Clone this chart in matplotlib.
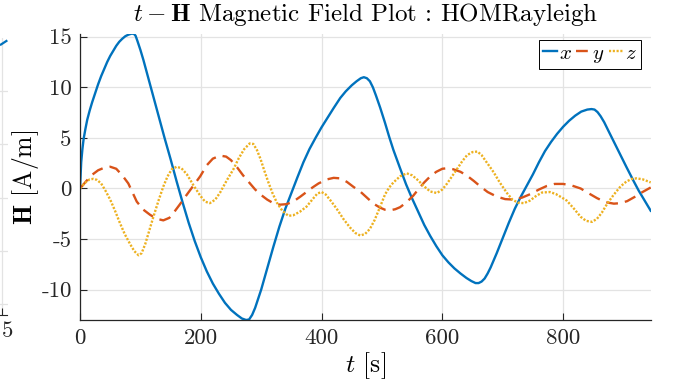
import matplotlib
matplotlib.use("Agg")
import matplotlib.pyplot as plt

plt.rcParams['font.family'] = ['cmr10', 'DejaVu Serif']
plt.rcParams['mathtext.fontset'] = 'cm'
plt.rcParams['axes.unicode_minus'] = False
plt.rcParams['axes.formatter.use_mathtext'] = True

# ---- data ----
t_x = [0, 2, 4, 6, 9, 12, 16, 20, 25, 30, 35, 40, 45, 50, 55, 60, 65, 70, 75, 80, 85, 89,
       92, 95, 100, 105, 110, 120, 130, 140, 150, 160, 170, 180, 190, 200, 210, 220, 230,
       240, 250, 260, 268, 275, 280, 285, 290, 295, 300, 310, 320, 330, 340, 350, 360,
       370, 380, 390, 400, 410, 420, 431, 440, 450, 458, 465, 470, 475, 480, 485, 490,
       497, 505, 512, 519, 530, 540, 550, 560, 570, 580, 590, 600, 610, 620, 630, 640,
       648, 655, 660, 665, 670, 675, 680, 690, 700, 710, 720, 730, 740, 750, 760, 770,
       780, 790, 800, 810, 820, 830, 840, 847, 852, 857, 862, 868, 875, 885, 895, 905,
       917, 925, 935, 945]
H_x = [0, 2.6, 3.9, 4.9, 5.9, 6.8, 7.7, 8.5, 9.4, 10.3, 11.1, 11.8, 12.5, 13.1, 13.6,
       14.1, 14.5, 14.8, 15.05, 15.2, 15.3, 15.3, 15.1, 14.6, 13.7, 12.7, 11.6, 9.4, 7.2,
       5.0, 2.9, 0.7, -1.4, -3.4, -5.2, -6.8, -8.2, -9.4, -10.4, -11.3, -12.0, -12.5,
       -12.85, -13.0, -12.95, -12.5, -11.8, -10.9, -10.0, -7.9, -5.8, -3.8, -2.0, -0.45,
       1.1, 2.6, 3.9, 5.0, 6.05, 7.0, 7.95, 8.95, 9.6, 10.2, 10.6, 10.9, 11.0, 10.9, 10.6,
       10.0, 9.2, 8.0, 6.5, 5.1, 3.8, 2.0, 0.4, -1.0, -2.3, -3.6, -4.7, -5.7, -6.6, -7.3,
       -7.9, -8.4, -8.85, -9.15, -9.35, -9.35, -9.2, -8.9, -8.4, -7.8, -6.4, -4.9, -3.4,
       -2.0, -0.8, 0.3, 1.4, 2.6, 3.7, 4.6, 5.4, 6.1, 6.7, 7.2, 7.6, 7.8, 7.85, 7.8, 7.55,
       7.15, 6.55, 5.7, 4.5, 3.3, 2.1, 0.7, -0.2, -1.2, -2.2]

t_y = [0, 10, 20, 30, 40, 50, 60, 70, 80, 87, 94, 105, 116, 127, 138, 148, 155, 165, 177,
       188, 199, 210, 220, 232, 242, 250, 260, 270, 280, 290, 300, 310, 320, 331, 342,
       353, 365, 375, 385, 395, 409, 420, 431, 442, 453, 464, 475, 486, 497, 505, 514,
       522, 530, 540, 552, 560, 570, 580, 590, 600, 608, 618, 630, 640, 652, 663, 675,
       690, 704, 718, 732, 746, 760, 773, 786, 800, 814, 829, 843, 856, 870, 884, 895,
       906, 918, 930, 945]
H_y = [0, 0.7, 1.35, 1.8, 2.05, 2.15, 1.95, 1.3, 0.5, -0.4, -1.3, -2.1, -2.6, -3.0,
       -3.15, -2.9, -2.4, -1.6, -0.6, 0.3, 1.2, 2.3, 2.95, 3.25, 3.15, 2.8, 2.1, 1.3, 0.6,
       -0.1, -0.65, -1.1, -1.45, -1.6, -1.55, -1.3, -0.8, -0.35, 0.1, 0.5, 0.9, 1.05, 1.0,
       0.65, 0.15, -0.3, -0.9, -1.5, -1.9, -2.1, -2.15, -2.05, -1.85, -1.4, -0.7, -0.1,
       0.6, 1.2, 1.65, 1.95, 2.0, 1.9, 1.65, 1.3, 0.75, 0.2, -0.35, -0.8, -1.05, -1.1,
       -0.9, -0.55, -0.1, 0.25, 0.45, 0.45, 0.3, 0.0, -0.5, -0.95, -1.35, -1.5, -1.45,
       -1.25, -0.85, -0.4, 0.1]

t_z = [0, 8, 16, 22, 28, 35, 42, 50, 58, 66, 74, 83, 90, 97, 102, 108, 114, 121, 130, 138,
       145, 152, 160, 168, 177, 188, 199, 207, 215, 224, 232, 243, 254, 263, 272, 281, 287,
       293, 299, 305, 312, 319, 326, 335, 345, 353, 364, 375, 386, 393, 400, 407, 415,
       425, 436, 447, 456, 464, 472, 480, 488, 497, 505, 512, 519, 530, 541, 550, 560,
       569, 580, 591, 600, 608, 616, 624, 633, 641, 650, 658, 665, 672, 678, 685, 695,
       707, 716, 725, 735, 745, 755, 765, 778, 788, 798, 806, 818, 829, 838, 848, 856,
       864, 873, 884, 895, 905, 914, 922, 932, 945]
H_z = [0, 0.55, 0.9, 0.95, 0.85, 0.5, -0.2, -1.1, -2.2, -3.4, -4.5, -5.5, -6.2, -6.6,
       -6.4, -5.5, -4.3, -2.9, -1.2, 0.2, 1.2, 1.9, 2.15, 2.0, 1.4, 0.3, -0.7, -1.3, -1.45,
       -1.1, -0.4, 0.8, 1.9, 3.0, 3.9, 4.45, 4.4, 3.8, 2.9, 1.8, 0.6, -0.5, -1.4, -2.2,
       -2.7, -2.65, -2.3, -1.8, -1.0, -0.5, -0.35, -0.6, -1.2, -2.0, -3.0, -3.85, -4.4,
       -4.65, -4.5, -4.0, -3.1, -1.8, -0.6, 0.1, 0.6, 1.2, 1.5, 1.3, 0.8, 0.25, -0.3,
       -0.45, -0.1, 0.5, 1.2, 1.9, 2.7, 3.3, 3.6, 3.65, 3.3, 2.7, 2.2, 1.6, 0.6, -0.45,
       -1.1, -1.4, -1.45, -1.2, -0.75, -0.4, -0.35, -0.55, -0.9, -1.2, -2.0, -2.8, -3.2,
       -3.3, -3.0, -2.4, -1.5, -0.6, 0.2, 0.7, 0.95, 1.0, 0.9, 0.6]

xticks = [0, 200, 400, 600, 800]
xtick_labels = ['0', '200', '400', '600', '800']
yticks = [-10, -5, 0, 5, 10, 15]
ytick_labels = ['-10', '-5', '0', '5', '10', '15']
series_labels = ['$x$', '$y$', '$z$']

# fragment of the neighbouring subplot (cropped at the left edge)
left_t = [24.87, 25.33]
left_v = [4.86, 4.95]
left_xticks = [25]
left_xtick_labels = ['5']
left_yticks = [0, 1, 2, 3, 4]

C_BLUE = '#0072BD'
C_ORANGE = '#D95319'
C_YELLOW = '#EDB120'
AX_COL = '#262626'
GRID_COL = '#E3E3E3'
TICK_FS = 16.5
LABEL_FS = 18.5

fig = plt.figure(figsize=(6.73, 3.86), dpi=100)

# ---- neighbouring subplot fragment ----
ax0 = fig.add_axes([-400 / 673, 1 - 315 / 386, 407.5 / 673, (315 - 37.7) / 386])
ax0.plot(left_t, left_v, color=C_BLUE, lw=1.6, solid_capstyle='butt')
ax0.set_xlim(0, 25.34)
ax0.set_ylim(-0.2, 5.0)
ax0.set_xticks(left_xticks)
ax0.set_xticklabels(left_xtick_labels, fontsize=TICK_FS, ha='left')
ax0.set_yticks(left_yticks)
ax0.set_yticklabels([])
ax0.grid(True, color=GRID_COL, lw=0.9)
ax0.set_axisbelow(True)
for s in ['top', 'right', 'left']:
    ax0.spines[s].set_visible(False)
ax0.spines['bottom'].set_color(AX_COL)
ax0.tick_params(direction='in', length=5, colors=AX_COL, pad=5)
ax0.tick_params(axis='y', length=0)

# ---- main axes ----
ax = fig.add_axes([80 / 673, 1 - 320 / 386, 570.7 / 673, (320 - 33.7) / 386])
ax.plot(t_x, H_x, color=C_BLUE, lw=1.7, label=series_labels[0])
ax.plot(t_y, H_y, color=C_ORANGE, lw=1.7, linestyle=(0, (5.0, 3.0)), label=series_labels[1])
ax.plot(t_z, H_z, color=C_YELLOW, lw=1.7, linestyle=(0, (0.9, 0.7)), label=series_labels[2])

ax.set_xlim(0, 945)
ax.set_ylim(-13.0, 15.3)
ax.set_xticks(xticks)
ax.set_xticklabels(xtick_labels, fontsize=TICK_FS)
ax.set_yticks(yticks)
ax.set_yticklabels(ytick_labels, fontsize=TICK_FS)
ax.grid(True, color=GRID_COL, lw=0.9)
ax.set_axisbelow(True)
for s in ['top', 'right']:
    ax.spines[s].set_visible(False)
for s in ['left', 'bottom']:
    ax.spines[s].set_color(AX_COL)
    ax.spines[s].set_linewidth(0.9)
ax.tick_params(direction='in', length=5, width=0.8, colors=AX_COL, pad=6)

ax.set_title(r'$t-\mathbf{H}$ Magnetic Field Plot : HOMRayleigh', fontsize=18, pad=9,
             color='black')
ax.set_xlabel(r'$t$ [s]', fontsize=LABEL_FS, labelpad=2)
ax.set_ylabel(r'$\mathbf{H}$ [A/m]', fontsize=LABEL_FS, labelpad=0)

leg = ax.legend(loc='upper right', ncol=3, fontsize=15, handlelength=0.67,
                handletextpad=0.1, columnspacing=0.2, borderpad=0.2,
                borderaxespad=0.0, fancybox=False, framealpha=1,
                bbox_to_anchor=((640.7 - 80) / 570.7, (320 - 40) / 286.3))
leg.get_frame().set_edgecolor('black')
leg.get_frame().set_linewidth(0.7)

fig.savefig('out.png', dpi=100)
